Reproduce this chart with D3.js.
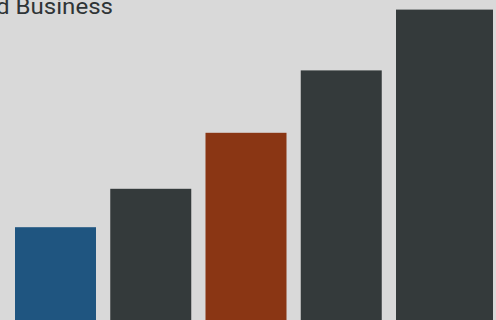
<!DOCTYPE html>
<html><head><meta charset="utf-8">
<script src="https://cdn.jsdelivr.net/npm/d3@7"></script>
<style>html,body{margin:0;padding:0;background:#d9d9d9;overflow:hidden}svg{display:block}</style>
</head><body>
<script>
const categories = ["A", "B", "C", "D", "E"];
const values = [29, 41, 58.5, 78, 97];
const colors = ["#1f5580", "#343a3b", "#8a3614", "#343a3b", "#343a3b"];
const title = "d Business";

const W = 496, H = 320;
const svg = d3.select("body").append("svg").attr("width", W).attr("height", H);
svg.append("rect").attr("width", W).attr("height", H).attr("fill", "#d9d9d9");

const x = d3.scaleBand().domain(categories).range([15, 477]).paddingInner(0.1496).paddingOuter(0);
const y = d3.scaleLinear().domain([0, 100]).range([H, 0]);
const rightEdge = W - 3;

svg.selectAll("rect.bar").data(categories).join("rect")
  .attr("class", "bar")
  .attr("x", d => x(d))
  .attr("y", (d, i) => y(values[i]))
  .attr("width", (d, i) => i === categories.length - 1 ? rightEdge - x(d) : x.bandwidth())
  .attr("height", (d, i) => y(0) - y(values[i]))
  .attr("fill", (d, i) => colors[i]);

svg.append("text").attr("x", -4).attr("y", 13.5)
  .attr("font-family", "Roboto, Liberation Sans, Arial, sans-serif")
  .attr("font-size", 21.5).attr("fill", "#2f3436")
  .attr("textLength", 117).attr("lengthAdjust", "spacingAndGlyphs")
  .text(title);
</script>
</body></html>
